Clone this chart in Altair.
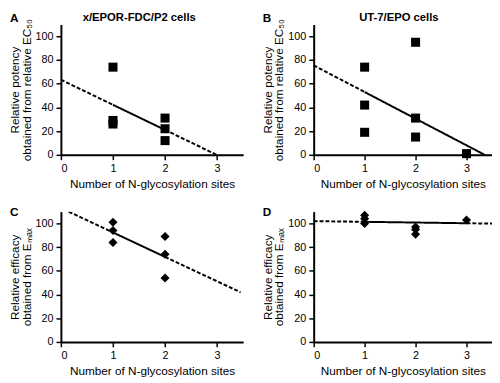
import altair as alt
import pandas as pd

FONT = "Liberation Sans"

# ---- data ----
sites_a = [1, 1, 1, 2, 2, 2]
potency_a = [74, 29, 26, 31, 22, 12]
sites_b = [1, 1, 1, 2, 2, 2, 3]
potency_b = [74, 42, 19, 95, 31, 15, 1]
sites_c = [1, 1, 1, 2, 2, 2]
efficacy_c = [101, 94, 84, 89, 74, 54]
sites_d = [1, 1, 1, 2, 2, 2, 3]
efficacy_d = [107, 104, 100, 97, 95, 91, 103]

# regression lines: intercept, slope
fit_a = (63.4, -21.2)
fit_b = (75.5, -22.5)
fit_c = (113.0, -20.6)
fit_d = (102.0, -0.6)

# drawn extent of each line and the part that is solid (inside data range)
line_range_a, solid_range_a = (0, 2.99), (1, 2)
line_range_b, solid_range_b = (0, 3.36), (1, 3.36)
line_range_c, solid_range_c = (0.15, 3.45), (1, 2)
line_range_d, solid_range_d = (0, 3.5), (1, 3)

x_ticks = [0, 1, 2, 3]
y_ticks = [0, 20, 40, 60, 80, 100]
x_title = "Number of N-glycosylation sites"
y_title_potency = ["Relative potency", "obtained from relative EC\u2085\u2080"]
y_title_efficacy = ["Relative efficacy", "obtained from E\u2098\u2090\u2093"]


def line_frame(fit, line_range, solid_range):
    b0, b1 = fit
    pieces = []
    bounds = [(line_range[0], solid_range[0], "extrapolated"),
              (solid_range[0], solid_range[1], "fit"),
              (solid_range[1], line_range[1], "extrapolated")]
    for i, (x0, x1, kind) in enumerate(bounds):
        if x1 - x0 <= 1e-9:
            continue
        for xv in (x0, x1):
            pieces.append({"x": xv, "y": b0 + b1 * xv, "seg": i, "kind": kind})
    return pd.DataFrame(pieces)


def panel(xs, ys, shape, size, fit, line_range, solid_range, letter, letter_y,
          title, title_x, ytitle, width, height):
    xsc = alt.Scale(domain=[0, 3.5], nice=False)
    ysc = alt.Scale(domain=[0, 110], nice=False)
    xenc = alt.X("x:Q", scale=xsc,
                 axis=alt.Axis(values=x_ticks, format="d", title=x_title))
    yenc = alt.Y("y:Q", scale=ysc,
                 axis=alt.Axis(values=y_ticks, title=ytitle))
    pts = pd.DataFrame({"x": xs, "y": ys})
    lines = alt.Chart(line_frame(fit, line_range, solid_range)).mark_line(
        color="black", strokeWidth=2, clip=True
    ).encode(
        x=xenc, y=yenc, detail="seg:N",
        strokeDash=alt.StrokeDash(
            "kind:N",
            scale=alt.Scale(domain=["fit", "extrapolated"], range=[[1, 0], [4, 2]]),
            legend=None),
    )
    points = alt.Chart(pts).mark_point(
        shape=shape, filled=True, size=size, color="black", opacity=1
    ).encode(x=xenc, y=yenc)
    lab = alt.Chart(pd.DataFrame({"t": [letter]})).mark_text(
        align="left", baseline="alphabetic", font=FONT, fontSize=12,
        fontWeight="bold", color="black"
    ).encode(x=alt.value(-52), y=alt.value(letter_y), text="t:N")
    layers = [lines, points, lab]
    if title:
        tt = alt.Chart(pd.DataFrame({"t": [title]})).mark_text(
            align="center", baseline="alphabetic", font=FONT, fontSize=11.5,
            fontWeight="bold", color="black"
        ).encode(x=alt.value(title_x), y=alt.value(-4), text="t:N")
        layers.append(tt)
    return alt.layer(*layers).properties(width=width, height=height)


pa = panel(sites_a, potency_a, "square", 85, fit_a, line_range_a, solid_range_a,
           "A", -3, "x/EPOR-FDC/P2 cells", 80, y_title_potency, 186, 133)
pb = panel(sites_b, potency_b, "square", 85, fit_b, line_range_b, solid_range_b,
           "B", -3, "UT-7/EPO cells", 87, y_title_potency, 182, 133)
pc = panel(sites_c, efficacy_c, "diamond", 85, fit_c, line_range_c, solid_range_c,
           "C", 4, None, 0, y_title_efficacy, 186, 133)
pd_ = panel(sites_d, efficacy_d, "diamond", 85, fit_d, line_range_d, solid_range_d,
            "D", 4, None, 0, y_title_efficacy, 182, 133)

chart = alt.concat(pa, pb, pc, pd_, columns=2, spacing={"row": 17, "column": 18}).properties(
    padding=0, background="white"
).configure_view(stroke=None).configure_axis(
    grid=False,
    domainColor="black", domainWidth=2,
    tickColor="black", tickWidth=1.5, tickSize=5,
    labelColor="black", labelFont=FONT, labelFontSize=11, labelPadding=3,
    titleColor="black", titleFont=FONT, titleFontSize=12, titleFontWeight="normal",
    titleLineHeight=12,
).configure_axisY(titlePadding=2).configure_axisX(titlePadding=5)

chart.save("out.html", embed_options={"renderer": "svg", "actions": False})
